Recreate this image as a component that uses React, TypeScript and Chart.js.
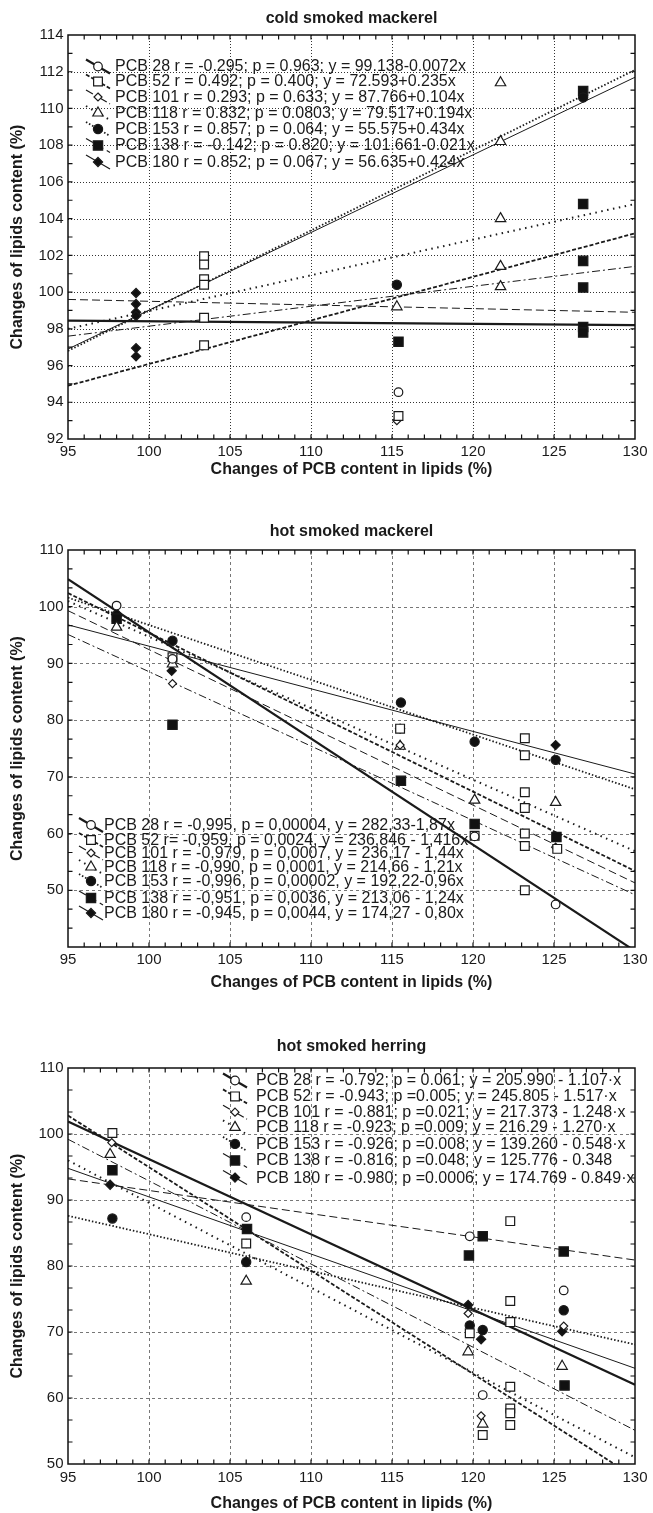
import React, { useEffect, useRef } from "react";
import { Chart, registerables } from "chart.js";

Chart.register(...registerables);

// ---------- shared ----------
const SERIES = ["PCB 28", "PCB 52", "PCB 101", "PCB 118", "PCB 153", "PCB 138", "PCB 180"];
const X_TICKS = [95, 100, 105, 110, 115, 120, 125, 130];
const X_GRID = [100, 105, 110, 115, 120, 125];
const LINE_X = [95, 130];

// ---------- cold smoked mackerel ----------
const COLD_Y_TICKS = [92, 94, 96, 98, 100, 102, 104, 106, 108, 110, 112, 114];
const COLD_Y_GRID = [94, 96, 98, 100, 102, 104, 106, 108, 110, 112];
const COLD_PCB28 = [[115.4, 94.55]];
const COLD_PCB52 = [[103.4, 101.95], [103.4, 101.5], [103.4, 100.7], [103.4, 100.4], [103.4, 98.6], [103.4, 97.1], [115.4, 93.25]];
const COLD_PCB101 = [[115.3, 93.0]];
const COLD_PCB118 = [[121.7, 111.4], [121.7, 108.2], [121.7, 104.0], [121.7, 101.4], [121.7, 100.3], [115.3, 99.2]];
const COLD_PCB153 = [[115.3, 100.4], [126.8, 110.6]];
const COLD_PCB138 = [[126.8, 110.95], [126.8, 104.8], [126.8, 101.7], [126.8, 100.25], [126.8, 98.1], [126.8, 97.8], [115.4, 97.3]];
const COLD_PCB180 = [[99.2, 99.95], [99.2, 99.35], [99.2, 98.9], [99.2, 98.7], [99.2, 96.95], [99.2, 96.5]];
const COLD_LINE_Y0 = [98.45, 94.9, 97.6, 98.0, 96.8, 99.6, 96.9];
const COLD_LINE_Y1 = [98.2, 103.2, 101.4, 104.8, 112.1, 98.9, 111.7];
const COLD_LEGEND = [
  "PCB 28 r = -0.295; p = 0.963; y = 99.138-0.0072x",
  "PCB 52 r = 0.492; p = 0.400; y = 72.593+0.235x",
  "PCB 101 r = 0.293; p = 0.633; y = 87.766+0.104x",
  "PCB 118 r = 0.832; p = 0.0803; y = 79.517+0.194x",
  "PCB 153 r = 0.857; p = 0.064; y = 55.575+0.434x",
  "PCB 138 r = -0.142; p = 0.820; y = 101.661-0.021x",
  "PCB 180 r = 0.852; p = 0.067; y = 56.635+0.424x",
];

// ---------- hot smoked mackerel ----------
const HOTM_Y_TICKS = [50, 60, 70, 80, 90, 100, 110];
const HOTM_Y_GRID = [50, 60, 70, 80, 90, 100];
const HOTM_PCB28 = [[98.0, 100.2], [101.45, 90.8], [120.1, 59.5], [125.1, 47.5]];
const HOTM_PCB52 = [[101.45, 91.1], [115.5, 78.5], [123.2, 76.8], [123.2, 73.8], [123.2, 67.3], [123.2, 64.5], [123.2, 60.0], [123.2, 57.8], [123.2, 50.0], [120.1, 59.6], [125.2, 57.3]];
const HOTM_PCB101 = [[101.45, 86.45], [115.5, 75.6], [125.1, 57.6]];
const HOTM_PCB118 = [[98.0, 96.4], [101.45, 89.9], [115.5, 75.4], [120.1, 65.9], [125.1, 65.5]];
const HOTM_PCB153 = [[101.45, 94.0], [115.55, 83.1], [120.1, 76.2], [125.1, 73.0]];
const HOTM_PCB138 = [[98.0, 97.9], [101.45, 79.2], [115.55, 69.3], [120.1, 61.7], [125.15, 59.4]];
const HOTM_PCB180 = [[98.0, 98.8], [101.4, 88.7], [115.5, 78.5], [125.1, 75.6]];
const HOTM_LINE_Y0 = [104.85, 102.4, 95.1, 101.0, 101.6, 99.3, 96.8];
const HOTM_LINE_Y1 = [39.3, 53.4, 49.2, 56.9, 67.8, 51.3, 70.5];
const HOTM_LEGEND = [
  "PCB 28 r = -0,995, p = 0,00004, y = 282,33-1,87x",
  "PCB 52 r= -0,959, p = 0,0024, y = 236,846 - 1,416x",
  "PCB 101 r = -0,979, p = 0,0007, y = 236,17 - 1,44x",
  "PCB 118 r = -0,990, p = 0,0001, y = 214,66 - 1,21x",
  "PCB 153 r = -0,996, p = 0,00002, y = 192,22-0,96x",
  "PCB 138 r = -0,951, p = 0,0036, y = 213,06 - 1,24x",
  "PCB 180 r = -0,945, p = 0,0044, y = 174,27 - 0,80x",
];

// ---------- hot smoked herring ----------
const HERR_Y_TICKS = [50, 60, 70, 80, 90, 100, 110];
const HERR_Y_GRID = [60, 70, 80, 90, 100];
const HERR_PCB28 = [[106.0, 87.4], [119.8, 84.5], [120.6, 60.45], [125.6, 76.3]];
const HERR_PCB52 = [[97.74, 100.15], [106.0, 83.4], [122.3, 86.8], [122.3, 74.7], [122.3, 71.5], [122.3, 61.7], [122.3, 58.4], [122.3, 57.7], [122.3, 55.9], [119.8, 69.8], [120.6, 54.4]];
const HERR_PCB101 = [[97.7, 98.7], [106.0, 83.4], [119.7, 72.8], [120.5, 57.3], [125.6, 70.9]];
const HERR_PCB118 = [[97.6, 96.9], [106.0, 77.7], [119.7, 67.0], [120.6, 56.05], [125.5, 64.8]];
const HERR_PCB153 = [[97.74, 87.2], [106.0, 80.6], [119.8, 71.0], [120.6, 70.3], [125.6, 73.3]];
const HERR_PCB138 = [[97.74, 94.5], [106.05, 85.6], [119.75, 81.6], [120.6, 84.5], [125.6, 82.2], [125.65, 61.9]];
const HERR_PCB180 = [[97.6, 92.3], [119.7, 74.1], [120.5, 68.9], [125.5, 70.1]];
const HERR_LINE_Y0 = [101.9, 102.8, 99.2, 96.0, 87.6, 93.2, 94.8];
const HERR_LINE_Y1 = [62.0, 48.0, 55.1, 51.0, 68.1, 80.9, 64.5];
const HERR_LEGEND = [
  "PCB 28 r = -0.792; p = 0.061; y = 205.990 - 1.107·x",
  "PCB 52 r = -0.943; p =0.005; y = 245.805 - 1.517·x",
  "PCB 101 r = -0.881; p =0.021; y = 217.373 - 1.248·x",
  "PCB 118 r = -0.923; p =0.009; y = 216.29 - 1.270·x",
  "PCB 153 r = -0.926; p =0.008; y = 139.260 - 0.548·x",
  "PCB 138 r = -0.816; p =0.048; y = 125.776 - 0.348",
  "PCB 180 r = -0.980; p =0.0006; y = 174.769 - 0.849·x",
];

// ---------- styles ----------
const FONT = '"Liberation Sans", Arial, Helvetica, sans-serif';
const INK = "#1a1a1a";
const SYM = [
  { style: "circle", r: 4.3, fill: "#ffffff" },
  { style: "rect", r: 6.2, fill: "#ffffff" },
  { style: "rectRot", r: 4.0, fill: "#ffffff" },
  { style: "triangle", r: 6.0, fill: "#ffffff" },
  { style: "circle", r: 4.6, fill: "#111111" },
  { style: "rect", r: 6.6, fill: "#111111" },
  { style: "rectRot", r: 4.6, fill: "#111111" },
];
const LINE_STYLE = [
  { w: 2.2, dash: [] as number[] },
  { w: 1.8, dash: [4, 2] },
  { w: 1.0, dash: [8, 3, 2, 3] },
  { w: 2.0, dash: [1.5, 4.5] },
  { w: 1.8, dash: [1.5, 2] },
  { w: 1.0, dash: [8, 4] },
  { w: 1.0, dash: [] as number[] },
];

interface PanelCfg {
  top: number;
  height: number;
  plotTop: number;
  plotBottom: number;
  yMin: number;
  yMax: number;
  yTicks: number[];
  yGrid: number[];
  yMinorStep: number;
  title: string;
  titleY: number;
  xLabelY: number;
  xTitleY: number;
  gridDash: number[];
  gridColor: string;
  points: number[][][];
  lineY0: number[];
  lineY1: number[];
  legend: string[];
  legendY: number[];
  legendSymX: number;
  legendTextX: number;
}

const PANELS: PanelCfg[] = [
  {
    top: 0, height: 500, plotTop: 35, plotBottom: 439,
    yMin: 92, yMax: 114, yTicks: COLD_Y_TICKS, yGrid: COLD_Y_GRID, yMinorStep: 1,
    title: "cold smoked mackerel", titleY: 18.5, xLabelY: 452, xTitleY: 470,
    gridDash: [1, 2], gridColor: "#333333",
    points: [COLD_PCB28, COLD_PCB52, COLD_PCB101, COLD_PCB118, COLD_PCB153, COLD_PCB138, COLD_PCB180],
    lineY0: COLD_LINE_Y0, lineY1: COLD_LINE_Y1,
    legend: COLD_LEGEND, legendY: [66.5, 81.5, 97, 113, 129, 145.5, 162], legendSymX: 98, legendTextX: 115,
  },
  {
    top: 500, height: 505, plotTop: 50, plotBottom: 447,
    yMin: 40, yMax: 110, yTicks: HOTM_Y_TICKS, yGrid: HOTM_Y_GRID, yMinorStep: 10 / 3,
    title: "hot smoked mackerel", titleY: 31.5, xLabelY: 460, xTitleY: 483,
    gridDash: [3, 3], gridColor: "#777777",
    points: [HOTM_PCB28, HOTM_PCB52, HOTM_PCB101, HOTM_PCB118, HOTM_PCB153, HOTM_PCB138, HOTM_PCB180],
    lineY0: HOTM_LINE_Y0, lineY1: HOTM_LINE_Y1,
    legend: HOTM_LEGEND, legendY: [325, 340, 353, 367, 381, 398, 413], legendSymX: 91, legendTextX: 104,
  },
  {
    top: 1005, height: 508, plotTop: 63, plotBottom: 459,
    yMin: 50, yMax: 110, yTicks: HERR_Y_TICKS, yGrid: HERR_Y_GRID, yMinorStep: 10 / 3,
    title: "hot smoked herring", titleY: 42, xLabelY: 472.5, xTitleY: 499,
    gridDash: [3, 3], gridColor: "#777777",
    points: [HERR_PCB28, HERR_PCB52, HERR_PCB101, HERR_PCB118, HERR_PCB153, HERR_PCB138, HERR_PCB180],
    lineY0: HERR_LINE_Y0, lineY1: HERR_LINE_Y1,
    legend: HERR_LEGEND, legendY: [75.5, 91.4, 107.2, 122.4, 138.9, 155.4, 172.6], legendSymX: 235, legendTextX: 256,
  },
];

function drawSymbol(ctx: CanvasRenderingContext2D, i: number, x: number, y: number) {
  const s = SYM[i];
  const r = s.r;
  ctx.save();
  ctx.setLineDash([]);
  ctx.lineWidth = 1.2;
  ctx.strokeStyle = INK;
  ctx.fillStyle = s.fill;
  ctx.beginPath();
  if (s.style === "circle") {
    ctx.arc(x, y, r, 0, Math.PI * 2);
  } else if (s.style === "rect") {
    const h = r * Math.SQRT1_2;
    ctx.rect(x - h, y - h, 2 * h, 2 * h);
  } else if (s.style === "rectRot") {
    ctx.moveTo(x, y - r);
    ctx.lineTo(x + r, y);
    ctx.lineTo(x, y + r);
    ctx.lineTo(x - r, y);
    ctx.closePath();
  } else {
    ctx.moveTo(x, y - r);
    ctx.lineTo(x + r * 0.866, y + r * 0.5);
    ctx.lineTo(x - r * 0.866, y + r * 0.5);
    ctx.closePath();
  }
  ctx.fill();
  ctx.stroke();
  ctx.restore();
}

function makeDecor(cfg: PanelCfg) {
  return {
    id: "decor",
    beforeDatasetsDraw(chart: any) {
      const { ctx, chartArea: a, scales } = chart;
      const xs = scales.x;
      const ys = scales.y;
      ctx.save();
      ctx.strokeStyle = cfg.gridColor;
      ctx.lineWidth = 1;
      ctx.setLineDash(cfg.gridDash);
      for (const v of X_GRID) {
        const px = Math.round(xs.getPixelForValue(v)) + 0.5;
        ctx.beginPath();
        ctx.moveTo(px, a.top);
        ctx.lineTo(px, a.bottom);
        ctx.stroke();
      }
      for (const v of cfg.yGrid) {
        const py = Math.round(ys.getPixelForValue(v)) + 0.5;
        ctx.beginPath();
        ctx.moveTo(a.left, py);
        ctx.lineTo(a.right, py);
        ctx.stroke();
      }
      ctx.restore();
    },
    afterDatasetsDraw(chart: any) {
      const { ctx, chartArea: a, scales } = chart;
      const xs = scales.x;
      const ys = scales.y;
      ctx.save();
      // legend
      for (let i = 0; i < cfg.legend.length; i++) {
        const y = cfg.legendY[i];
        const sx = cfg.legendSymX;
        const st = LINE_STYLE[i];
        ctx.save();
        ctx.strokeStyle = INK;
        ctx.lineWidth = Math.max(1.2, st.w);
        ctx.setLineDash(st.dash);
        ctx.beginPath();
        ctx.moveTo(sx - 12, y - 7);
        ctx.lineTo(sx + 12, y + 7);
        ctx.stroke();
        ctx.restore();
        drawSymbol(ctx, i, sx, y);
        ctx.fillStyle = INK;
        ctx.font = `16px ${FONT}`;
        ctx.textAlign = "left";
        ctx.textBaseline = "middle";
        ctx.fillText(cfg.legend[i], cfg.legendTextX, y + 0.5);
      }
      // frame
      ctx.setLineDash([]);
      ctx.strokeStyle = "#111111";
      ctx.lineWidth = 1.5;
      ctx.strokeRect(a.left, a.top, a.right - a.left, a.bottom - a.top);
      // ticks
      ctx.lineWidth = 1.2;
      for (let v = X_TICKS[0] + 1; v < X_TICKS[X_TICKS.length - 1]; v += 1) {
        const px = xs.getPixelForValue(v);
        ctx.beginPath();
        ctx.moveTo(px, a.bottom);
        ctx.lineTo(px, a.bottom - 4.5);
        ctx.moveTo(px, a.top);
        ctx.lineTo(px, a.top + 4.5);
        ctx.stroke();
      }
      const nMinor = Math.round((cfg.yMax - cfg.yMin) / cfg.yMinorStep);
      for (let k = 1; k < nMinor; k++) {
        const py = ys.getPixelForValue(cfg.yMin + k * cfg.yMinorStep);
        ctx.beginPath();
        ctx.moveTo(a.left, py);
        ctx.lineTo(a.left + 4.5, py);
        ctx.moveTo(a.right, py);
        ctx.lineTo(a.right - 4.5, py);
        ctx.stroke();
      }
      // tick labels
      ctx.fillStyle = INK;
      ctx.font = `15px ${FONT}`;
      ctx.textAlign = "center";
      ctx.textBaseline = "middle";
      for (const v of X_TICKS) {
        ctx.fillText(String(v), xs.getPixelForValue(v), cfg.xLabelY);
      }
      ctx.textAlign = "right";
      for (const v of cfg.yTicks) {
        ctx.fillText(String(v), a.left - 4.5, ys.getPixelForValue(v));
      }
      // titles
      ctx.font = `bold 16px ${FONT}`;
      ctx.textAlign = "center";
      const cx = (a.left + a.right) / 2;
      ctx.fillText(cfg.title, cx, cfg.titleY);
      ctx.fillText("Changes of PCB content in lipids (%)", cx, cfg.xTitleY);
      ctx.save();
      ctx.translate(18, (a.top + a.bottom) / 2);
      ctx.rotate(-Math.PI / 2);
      ctx.fillText("Changes of lipids content (%)", 0, 0);
      ctx.restore();
      ctx.restore();
    },
  };
}

function Panel({ cfg }: { cfg: PanelCfg }) {
  const ref = useRef<HTMLCanvasElement>(null);
  useEffect(() => {
    const canvas = ref.current;
    if (!canvas) return;
    const datasets: any[] = [];
    SERIES.forEach((name, i) => {
      const s = SYM[i];
      datasets.push({
        label: name,
        data: cfg.points[i].map((p) => ({ x: p[0], y: p[1] })),
        showLine: false,
        pointStyle: s.style,
        pointRadius: s.r,
        pointBackgroundColor: s.fill,
        pointBorderColor: INK,
        pointBorderWidth: 1.2,
        order: 0,
        clip: false,
      });
    });
    SERIES.forEach((name, i) => {
      const st = LINE_STYLE[i];
      datasets.push({
        label: name + " fit",
        data: [
          { x: LINE_X[0], y: cfg.lineY0[i] },
          { x: LINE_X[1], y: cfg.lineY1[i] },
        ],
        showLine: true,
        borderColor: INK,
        borderWidth: st.w,
        borderDash: st.dash,
        pointRadius: 0,
        fill: false,
        tension: 0,
        order: 1,
        clip: 0,
      });
    });
    const chart = new Chart(canvas, {
      type: "scatter",
      data: { datasets },
      options: {
        animation: false,
        responsive: false,
        devicePixelRatio: 1,
        events: [],
        layout: {
          padding: {
            left: 68,
            right: 18,
            top: cfg.plotTop,
            bottom: cfg.height - cfg.plotBottom,
          },
        },
        scales: {
          x: { type: "linear", min: X_TICKS[0], max: X_TICKS[X_TICKS.length - 1], display: false },
          y: { type: "linear", min: cfg.yMin, max: cfg.yMax, display: false },
        },
        plugins: {
          legend: { display: false },
          tooltip: { enabled: false },
          title: { display: false },
        },
      },
      plugins: [makeDecor(cfg)],
    } as any);
    return () => chart.destroy();
  }, [cfg]);
  return (
    <canvas
      ref={ref}
      width={653}
      height={cfg.height}
      style={{ position: "absolute", left: 0, top: cfg.top, width: 653, height: cfg.height, display: "block" }}
    />
  );
}

export default function App() {
  return (
    <div style={{ position: "absolute", left: 0, top: 0, width: 653, height: 1513, background: "#ffffff" }}>
      {PANELS.map((p, i) => (
        <Panel key={i} cfg={p} />
      ))}
    </div>
  );
}
